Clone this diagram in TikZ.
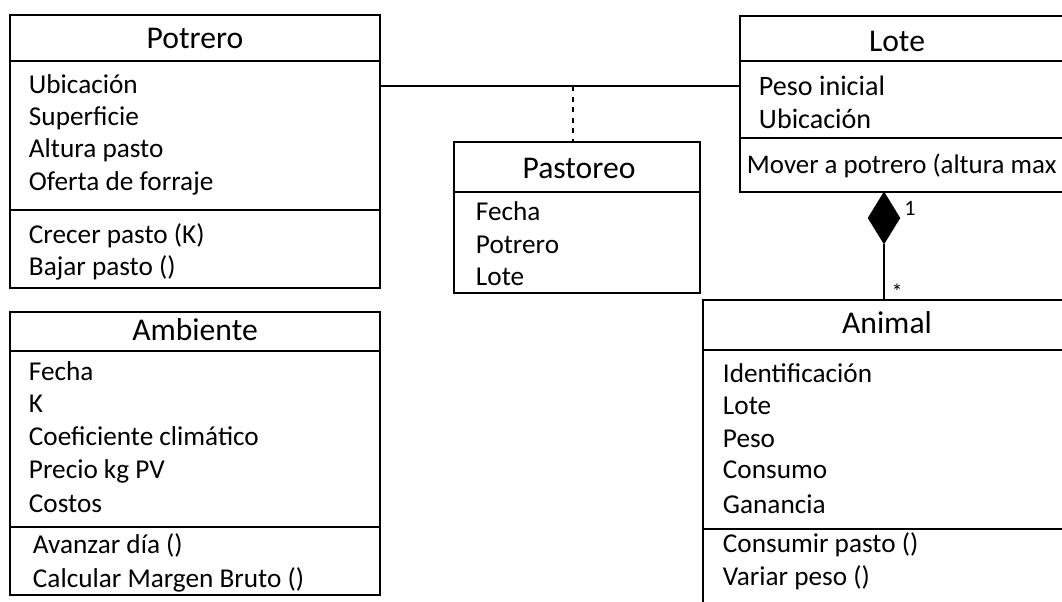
\documentclass[tikz,border=0pt]{standalone}
\usepackage{fontspec}
\setmainfont{Carlito}
\usetikzlibrary{fit,shapes.geometric}

\begin{document}
\begin{tikzpicture}[x=0.02cm,y=-0.02cm,line width=1.1pt,
	classbox/.style={draw,inner sep=0pt},
	title/.style={anchor=base,inner sep=0pt,font=\fontsize{18}{21}\selectfont},
	attr/.style={anchor=base west,inner sep=0pt,font=\fontsize{15.5}{18}\selectfont}]
	\useasboundingbox (0,0) rectangle (1062,602);
	\clip (0,0) rectangle (1062,602);

	% Potrero
	\node[classbox,fit={(10,15) (380,288)}] (potrero) {};
	\draw (10,61) -- (380,61) (10,210) -- (380,210);
	\node[title] (potreroT) at (195,48) {Potrero};
	\node[attr] (p1) at (28,93) {Ubicación};
	\node[attr] (p2) at (28,125) {Superficie};
	\node[attr] (p3) at (28,157) {Altura pasto};
	\node[attr] (p4) at (28,190) {Oferta de forraje};
	\node[attr] (p5) at (28,243) {Crecer pasto (K)};
	\node[attr] (p6) at (28,275) {Bajar pasto ()};

	% Ambiente
	\node[classbox,fit={(10,312) (380,595)}] (ambiente) {};
	\draw (10,351) -- (380,351) (10,527) -- (380,527);
	\node[title] (ambienteT) at (195,340) {Ambiente};
	\node[attr] (a1) at (28,380) {Fecha};
	\node[attr] (a2) at (28,412) {K};
	\node[attr] (a3) at (28,445) {Coeficiente climático};
	\node[attr] (a4) at (28,478) {Precio kg PV};
	\node[attr] (a5) at (28,512) {Costos};
	\node[attr] (a6) at (32,553) {Avanzar día ()};
	\node[attr] (a7) at (32,587) {Calcular Margen Bruto ()};

	% Pastoreo
	\node[classbox,fit={(454,142) (700,293)}] (pastoreo) {};
	\draw (454,192) -- (700,192);
	\node[title] (pastoreoT) at (579,178) {Pastoreo};
	\node[attr] (s1) at (475,220) {Fecha};
	\node[attr] (s2) at (475,253) {Potrero};
	\node[attr] (s3) at (475,285) {Lote};

	% Lote
	\node[classbox,fit={(740,16) (1080,192)}] (lote) {};
	\draw (740,61) -- (1080,61) (740,138) -- (1080,138);
	\node[title] (loteT) at (897,51) {Lote};
	\node[attr,font=\fontsize{16}{19}\selectfont] (l1) at (758,95) {Peso inicial};
	\node[attr,font=\fontsize{16}{19}\selectfont] (l2) at (758,128) {Ubicación};
	\node[attr,font=\fontsize{15.3}{18}\selectfont] (l3) at (746,173) {Mover a potrero (altura max};

	% Animal
	\node[classbox,fit={(703,300) (1080,640)}] (animal) {};
	\draw (703,350) -- (1080,350) (703,529) -- (1080,529);
	\node[title] (animalT) at (887,333) {Animal};
	\node[attr] (n1) at (722,382) {Identificación};
	\node[attr] (n2) at (722,414) {Lote};
	\node[attr] (n3) at (722,447) {Peso};
	\node[attr] (n4) at (722,478) {Consumo};
	\node[attr] (n5) at (722,513) {Ganancia};
	\node[attr] (n6) at (722,552) {Consumir pasto ()};
	\node[attr] (n7) at (722,585) {Variar peso ()};

	% relaciones
	\coordinate (assoc) at (573,86);
	\draw (potrero.east |- assoc) -- (lote.west |- assoc);
	\draw[dashed] (assoc) -- (assoc |- pastoreo.north);

	\node[diamond,draw,fill,inner sep=0pt,minimum width=31*0.02cm,minimum height=50*0.02cm,anchor=north] (comp) at (884,192) {};
	\draw (comp.south) -- (comp.south |- animal.north);
	\node[font=\fontsize{12.5}{14}\selectfont,inner sep=0pt] (uno) at (910,208) {1};
	\node[font=\fontsize{12.5}{14}\selectfont,inner sep=0pt] (muchos) at (897,292) {*};
\end{tikzpicture}
\end{document}
